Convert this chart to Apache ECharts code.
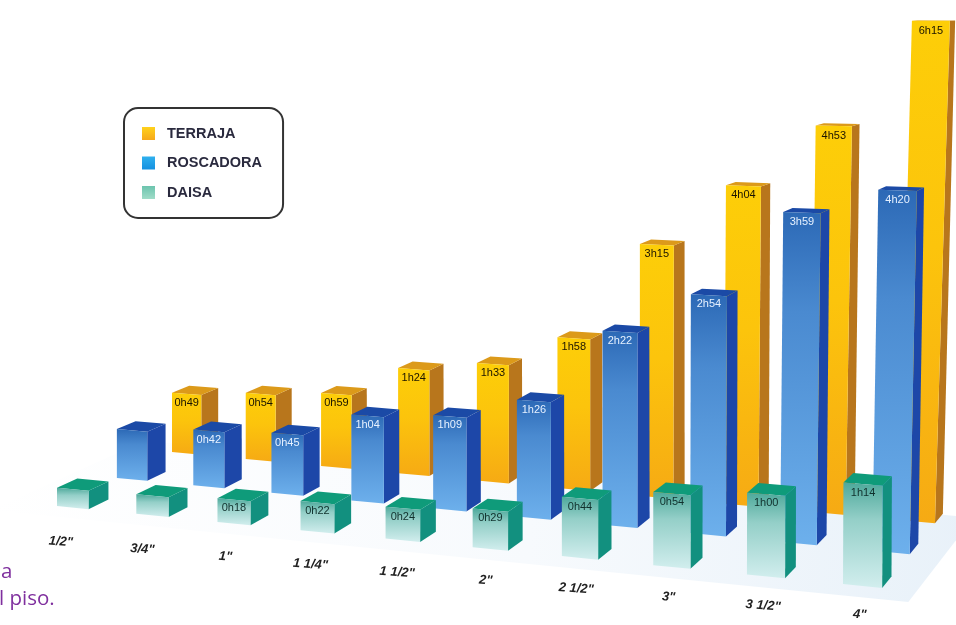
<!DOCTYPE html>
<html>
<head>
<meta charset="utf-8">
<style>html,body{margin:0;padding:0;background:#fff;overflow:hidden}#c{width:956px;height:625px;filter:blur(0.5px)}</style>
<script src="https://cdn.jsdelivr.net/npm/echarts@6/dist/echarts.min.js"></script>
</head>
<body>
<div id="c"></div>
<script>
var categories = ['1/2"','3/4"','1"','1 1/4"','1 1/2"','2"','2 1/2"','3"','3 1/2"','4"'];
var terrajaMinutes   = [49,54,59,84,93,118,195,244,293,375];
var roscadoraMinutes = [37,42,45,64,69,86,142,174,239,260];
var daisaMinutes     = [14,15,18,22,24,29,44,54,60,74];
var terrajaLabels   = ['0h49','0h54','0h59','1h24','1h33','1h58','3h15','4h04','4h53','6h15'];
var roscadoraLabels = ['','0h42','0h45','1h04','1h09','1h26','2h22','2h54','3h59','4h20'];
var daisaLabels     = ['','','0h18','0h22','0h24','0h29','0h44','0h54','1h00','1h14'];

var LG = echarts.graphic.LinearGradient;
function vgrad(stops){ return new LG(0,0,0,1,stops.map(function(s){return {offset:s[0],color:s[1]};})); }

// perspective camera: ground plane homography from (category index, depth row)
var P = (function(){
  var x0=57,x1=843,x2=899,x3=172,y0=506,y1=584,y2=520,y3=452;
  var sx=x0-x1+x2-x3, sy=y0-y1+y2-y3, dx1=x1-x2, dx2=x3-x2, dy1=y1-y2, dy2=y3-y2;
  var det=dx1*dy2-dx2*dy1, g=(sx*dy2-dx2*sy)/det, h=(dx1*sy-sx*dy1)/det;
  return {a:x1-x0+g*x1,b:x3-x0+h*x3,c:x0,d:y1-y0+g*y1,e:y3-y0+h*y3,f:y0,g:g,h:h};
})();
function ground(i,d){
  var u=i/9; u=u*0.96/(1-0.04*u);
  var v=d/2,w=P.g*u+P.h*v+1;
  return [(P.a*u+P.b*v+P.c)/w,(P.d*u+P.e*v+P.f)/w];
}
var rowScale=[[1.30,0.008],[1.32,0.0075],[1.21,0.0135]];
// a vertex of bar (i0,d0) at ground spot (i,d), raised to m minutes; heights converge on a horizon near the top
function vertex(i,d,m,i0,d0){
  var g0=ground(i0,d0), g=ground(i,d);
  var h=m*(rowScale[d0][0]+rowScale[d0][1]*i0)*g[1]/g0[1];
  var back=d>d0 ? 1e-5*h*h : 0;
  return [g[0]+2e-7*Math.max(0,g[0]-640)*h*h-back, g[1]-h];
}

var BW=0.40, BD=0.33;
function barSeries(name,depth,minutes,labels,colors){
  return {
    type:'custom', name:name, animation:false, silent:true, clip:false,
    itemStyle:{color:colors.legend},
    encode:{x:0,y:1},
    data:minutes.map(function(m,i){return [i,m];}),
    renderItem:function(params,api){
      var i=api.value(0), m=api.value(1), di=params.dataIndex;
      function c(ii,dd,mm){ return api.coord(vertex(ii,dd,mm,i,depth)); }
      var fl0=c(i,depth,0), fr0=c(i+BW,depth,0), fl=c(i,depth,m), fr=c(i+BW,depth,m);
      var br0=c(i+BW,depth+BD,0), br=c(i+BW,depth+BD,m), bl=c(i,depth+BD,m);
      var kids=[
        {type:'polygon',shape:{points:[fr0,br0,br,fr]},style:{fill:colors.side}},
        {type:'polygon',shape:{points:[fl,fr,br,bl]},style:{fill:colors.top}},
        {type:'polygon',shape:{points:[fl0,fr0,fr,fl]},style:{fill:vgrad(colors.front)}}
      ];
      if(labels[di]){
        kids.push({type:'text',style:{x:(fl[0]+fr[0])/2,y:fl[1]+10,text:labels[di],fill:colors.text,
          font:'11px "Liberation Sans",Arial,sans-serif',align:'center',verticalAlign:'middle'}});
      }
      return {type:'group',children:kids};
    }
  };
}

var groundSeries={
  type:'custom',animation:false,silent:true,clip:false,encode:{x:0,y:1},data:[[0,0]],z:0,
  renderItem:function(params,api){
    var pts=[ground(-0.6,-0.3),ground(9.75,-0.3),ground(9.75,2.3),ground(-0.6,2.3)].map(function(p){return api.coord(p);});
    return {type:'polygon',shape:{points:pts},style:{fill:new LG(0,0,1,0.2,[
      {offset:0,color:'#ffffff'},{offset:0.55,color:'#f7fafd'},{offset:1,color:'#e8f1f9'}])}};
  }
};
var axisLabelSeries={
  type:'custom',animation:false,silent:true,clip:false,encode:{x:0,y:1},
  data:categories.map(function(c,i){return [i,0];}),z:5,
  renderItem:function(params,api){
    var i=api.value(0), p=api.coord(ground(i+0.80-0.045*i,-0.95+0.024*i));
    return {type:'text',rotation:-0.07,x:p[0],y:p[1],style:{x:0,y:0,text:categories[params.dataIndex],fill:'#222',
      font:'italic bold 13px "Liberation Sans",Arial,sans-serif',align:'center',verticalAlign:'middle'}};
  }
};

var yellow={legend:new LG(0,0,0,1,[{offset:0,color:'#ffd21c'},{offset:1,color:'#f6a81c'}]),
  side:'#b8761c',top:'#dc9a1a',text:'#1a1400',front:[[0,'#fdce08'],[0.45,'#fcc40c'],[1,'#f6aa14']]};
var blue={legend:new LG(0,0,0,1,[{offset:0,color:'#2fb0ee'},{offset:1,color:'#1590e0'}]),
  side:'#1d47a8',top:'#1b4aa6',text:'#e6f1ff',front:[[0,'#2c69b6'],[0.3,'#4a8ad0'],[1,'#6db0ec']]};
var green={legend:new LG(0,0,0,1,[{offset:0,color:'#6cc4ae'},{offset:1,color:'#a0dcc8'}]),
  side:'#12907f',top:'#0f9b7a',text:'#10302c',front:[[0,'#4ea99b'],[0.35,'#94cfc8'],[1,'#d2eeee']]};

var chart=echarts.init(document.getElementById('c'),null,{renderer:'canvas'});
chart.setOption({
  animation:false,
  backgroundColor:'#ffffff',
  grid:{left:0,right:0,top:0,bottom:0},
  xAxis:{type:'value',min:0,max:956,show:false},
  yAxis:{type:'value',min:0,max:625,inverse:true,show:false},
  legend:{
    orient:'vertical',left:124,top:108,padding:[18,21,18,18],
    backgroundColor:'#fff',borderColor:'#333',borderWidth:2,borderRadius:14,
    itemWidth:13,itemHeight:13,itemGap:14.5,selectedMode:false,icon:'rect',
    textStyle:{fontFamily:'"Liberation Sans",Arial,sans-serif',fontWeight:'bold',fontSize:14.5,color:'#2a2a3e',padding:[0,0,0,7]},
    data:['TERRAJA','ROSCADORA','DAISA']
  },
  graphic:[
    {type:'text',left:1,top:562,style:{text:'a',fill:'#7f2f9e',font:'20.5px "Open Sans",sans-serif'}},
    {type:'text',left:-1,top:589,style:{text:'l piso.',fill:'#7f2f9e',font:'20.5px "Open Sans",sans-serif'}}
  ],
  series:[
    groundSeries,
    barSeries('TERRAJA',2,terrajaMinutes,terrajaLabels,yellow),
    barSeries('ROSCADORA',1,roscadoraMinutes,roscadoraLabels,blue),
    barSeries('DAISA',0,daisaMinutes,daisaLabels,green),
    axisLabelSeries
  ]
});
</script>
</body>
</html>
